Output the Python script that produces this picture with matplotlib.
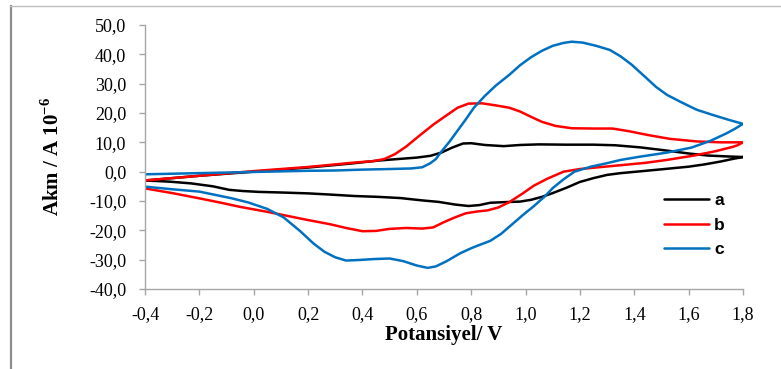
import matplotlib
matplotlib.use("Agg")
import matplotlib.pyplot as plt
from matplotlib.lines import Line2D

# Cyclic voltammograms: potential (V) and current (A x 10^-6), forward then reverse scan
pot_a = [-0.40, -0.30, -0.20, -0.10, 0.00, 0.10, 0.20, 0.28, 0.36, 0.46, 0.53, 0.60, 0.65, 0.69,
         0.73, 0.77, 0.80, 0.85, 0.92, 0.98, 1.05, 1.15, 1.25, 1.33, 1.42, 1.51, 1.60, 1.67, 1.74,
         1.80,
         1.76, 1.72, 1.66, 1.60, 1.50, 1.42, 1.35, 1.30, 1.25, 1.20, 1.15, 1.10, 1.06, 1.02, 0.98,
         0.92, 0.87, 0.83, 0.79, 0.74, 0.68, 0.62, 0.54, 0.46, 0.37, 0.28, 0.20, 0.10, 0.02, -0.04,
         -0.09, -0.15, -0.23, -0.31, -0.40]
cur_a = [-3.0, -2.2, -1.4, -0.7, 0.0, 0.7, 1.4, 2.1, 2.8, 3.8, 4.3, 4.8, 5.4, 6.5,
         8.2, 9.6, 9.7, 9.1, 8.7, 9.1, 9.3, 9.2, 9.2, 9.0, 8.3, 7.3, 6.2, 5.5, 5.2,
         5.0,
         4.3, 3.5, 2.5, 1.7, 0.8, 0.1, -0.5, -1.1, -2.2, -3.5, -5.5, -7.3, -8.6, -9.6, -10.2,
         -10.4, -10.6, -11.4, -11.7, -11.2, -10.3, -9.8, -9.0, -8.6, -8.3, -7.8, -7.4, -7.1, -6.9, -6.6,
         -6.2, -5.0, -4.0, -3.4, -3.0]

pot_b = [-0.40, -0.30, -0.20, -0.10, 0.00, 0.10, 0.20, 0.28, 0.37, 0.44, 0.48, 0.52, 0.56, 0.61,
         0.66, 0.70, 0.75, 0.79, 0.84, 0.89, 0.94, 0.98, 1.02, 1.06, 1.11, 1.17, 1.25, 1.32, 1.38,
         1.45, 1.53, 1.63, 1.72, 1.80,
         1.78, 1.76, 1.70, 1.62, 1.52, 1.44, 1.35, 1.28, 1.20, 1.14, 1.08, 1.03, 0.99, 0.94, 0.90,
         0.86, 0.82, 0.78, 0.74, 0.70, 0.66, 0.62, 0.56, 0.50, 0.45, 0.40, 0.34, 0.28, 0.20, 0.12,
         0.05, -0.05, -0.12, -0.20, -0.30, -0.40]
cur_b = [-3.0, -2.2, -1.4, -0.6, 0.2, 0.9, 1.6, 2.3, 3.1, 3.6, 4.3, 6.0, 8.5, 12.3,
         16.0, 18.6, 21.8, 23.2, 23.3, 22.6, 21.8, 20.5, 18.7, 17.0, 15.6, 14.8, 14.7, 14.7, 13.8,
         12.5, 11.2, 10.3, 10.0, 10.0,
         9.0, 8.4, 7.0, 5.5, 4.0, 3.0, 2.2, 1.6, 0.9, 0.0, -2.4, -4.8, -7.4, -10.4, -12.2,
         -13.2, -13.6, -14.2, -15.6, -17.2, -19.0, -19.4, -19.2, -19.5, -20.2, -20.3, -19.2, -17.9, -16.5, -15.0,
         -13.7, -12.0, -10.6, -9.1, -7.3, -5.7]

pot_c = [-0.40, -0.20, 0.00, 0.20, 0.30, 0.40, 0.50, 0.58, 0.62, 0.65, 0.67, 0.69, 0.72, 0.75,
         0.78, 0.81, 0.85, 0.89, 0.94, 0.98, 1.02, 1.06, 1.10, 1.14, 1.17, 1.21, 1.26, 1.31, 1.35,
         1.39, 1.44, 1.48, 1.52, 1.57, 1.63, 1.69, 1.75, 1.80,
         1.77, 1.74, 1.68, 1.61, 1.52, 1.42, 1.35, 1.30, 1.24, 1.18, 1.14, 1.10, 1.07, 1.03, 0.99,
         0.95, 0.91, 0.87, 0.83, 0.80, 0.76, 0.71, 0.67, 0.64, 0.60, 0.55, 0.50, 0.44, 0.39, 0.34,
         0.30, 0.26, 0.22, 0.17, 0.11, 0.05, -0.02, -0.08, -0.20, -0.30, -0.40]
cur_c = [-0.9, -0.5, -0.1, 0.3, 0.4, 0.7, 0.9, 1.1, 1.5, 2.9, 4.3, 6.8, 10.2, 14.0,
         17.8, 21.8, 25.8, 29.3, 33.0, 36.3, 39.0, 41.2, 42.9, 43.9, 44.3, 44.0, 42.9, 41.5, 39.3,
         36.5, 32.3, 28.9, 26.2, 23.8, 21.1, 19.3, 17.6, 16.3,
         14.6, 13.1, 10.5, 8.2, 6.5, 5.1, 4.0, 2.9, 1.7, 0.0, -2.6, -5.6, -8.5, -11.8, -14.8,
         -18.0, -21.2, -23.6, -25.0, -26.1, -27.8, -30.5, -32.3, -32.8, -32.0, -30.5, -29.6, -29.8, -30.1, -30.3,
         -29.2, -27.3, -24.5, -20.2, -15.6, -12.7, -10.5, -9.1, -6.8, -6.0, -5.1]

series_labels = ["a", "b", "c"]
series_colors = ["#000000", "#FF0000", "#0070C0"]

x_ticks = [-0.4, -0.2, 0.0, 0.2, 0.4, 0.6, 0.8, 1.0, 1.2, 1.4, 1.6, 1.8]
x_tick_labels = ["-0,4", "-0,2", "0,0", "0,2", "0,4", "0,6", "0,8", "1,0", "1,2", "1,4", "1,6", "1,8"]
y_ticks = [-40, -30, -20, -10, 0, 10, 20, 30, 40, 50]
y_tick_labels = ["-40,0", "-30,0", "-20,0", "-10,0", "0,0", "10,0", "20,0", "30,0", "40,0", "50,0"]

plt.rcParams["mathtext.fontset"] = "custom"
plt.rcParams["mathtext.rm"] = "Liberation Serif"
plt.rcParams["mathtext.bf"] = "Liberation Serif:bold"

W, H = 781, 369
fig = plt.figure(figsize=(W / 100, H / 100), dpi=100)
ax = fig.add_axes([145 / W, 1 - 289 / H, (743 - 145) / W, (289 - 25) / H])

for pot, cur, lab, col in zip([pot_a, pot_b, pot_c], [cur_a, cur_b, cur_c],
                              series_labels, series_colors):
    ax.plot(pot, cur, color=col, lw=1.8, label=lab,
            solid_joinstyle="round", solid_capstyle="round")

ax.set_xlim(-0.4, 1.8)
ax.set_ylim(-40, 50)
ax.set_xticks(x_ticks)
ax.set_xticklabels(x_tick_labels)
ax.set_yticks(y_ticks)
ax.set_yticklabels(y_tick_labels)

grey = "#A6A6A6"
for side in ("top", "right"):
    ax.spines[side].set_visible(False)
for side in ("left", "bottom"):
    ax.spines[side].set_color(grey)
    ax.spines[side].set_linewidth(1.0)

ax.tick_params(axis="both", direction="out", color=grey, length=4.5, width=1.0)
ax.tick_params(axis="y", pad=9)
ax.tick_params(axis="x", pad=8)
for t in ax.get_xticklabels() + ax.get_yticklabels():
    t.set_fontfamily("Liberation Serif")
    t.set_fontsize(13)

ax.set_xlabel("Potansiyel/ V", fontfamily="Liberation Serif", fontweight="bold", fontsize=15)
ax.set_ylabel(r"Akm / A 10$^{\mathbf{-6}}$", fontfamily="Liberation Serif",
              fontweight="bold", fontsize=15)
ax.xaxis.set_label_coords(0.5, -0.135)
ax.yaxis.set_label_coords(-0.135, 0.5)

leg = ax.legend(loc="center left", bbox_to_anchor=(655 / W, 1 - 225 / H),
                bbox_transform=fig.transFigure, frameon=False, borderpad=0,
                handlelength=2.6, handletextpad=0.3, labelspacing=0.55,
                prop={"family": "Liberation Sans", "weight": "bold", "size": 12.5})

# outer frame lines
fig.add_artist(Line2D([11 / W, 11 / W], [0, 1 - 6 / H], transform=fig.transFigure,
                      color="#8C8C8C", lw=1.6))
fig.add_artist(Line2D([10 / W, 1], [1 - 6 / H, 1 - 6 / H], transform=fig.transFigure,
                      color="#BFBFBF", lw=1.0))

fig.savefig("out.png", dpi=100)
